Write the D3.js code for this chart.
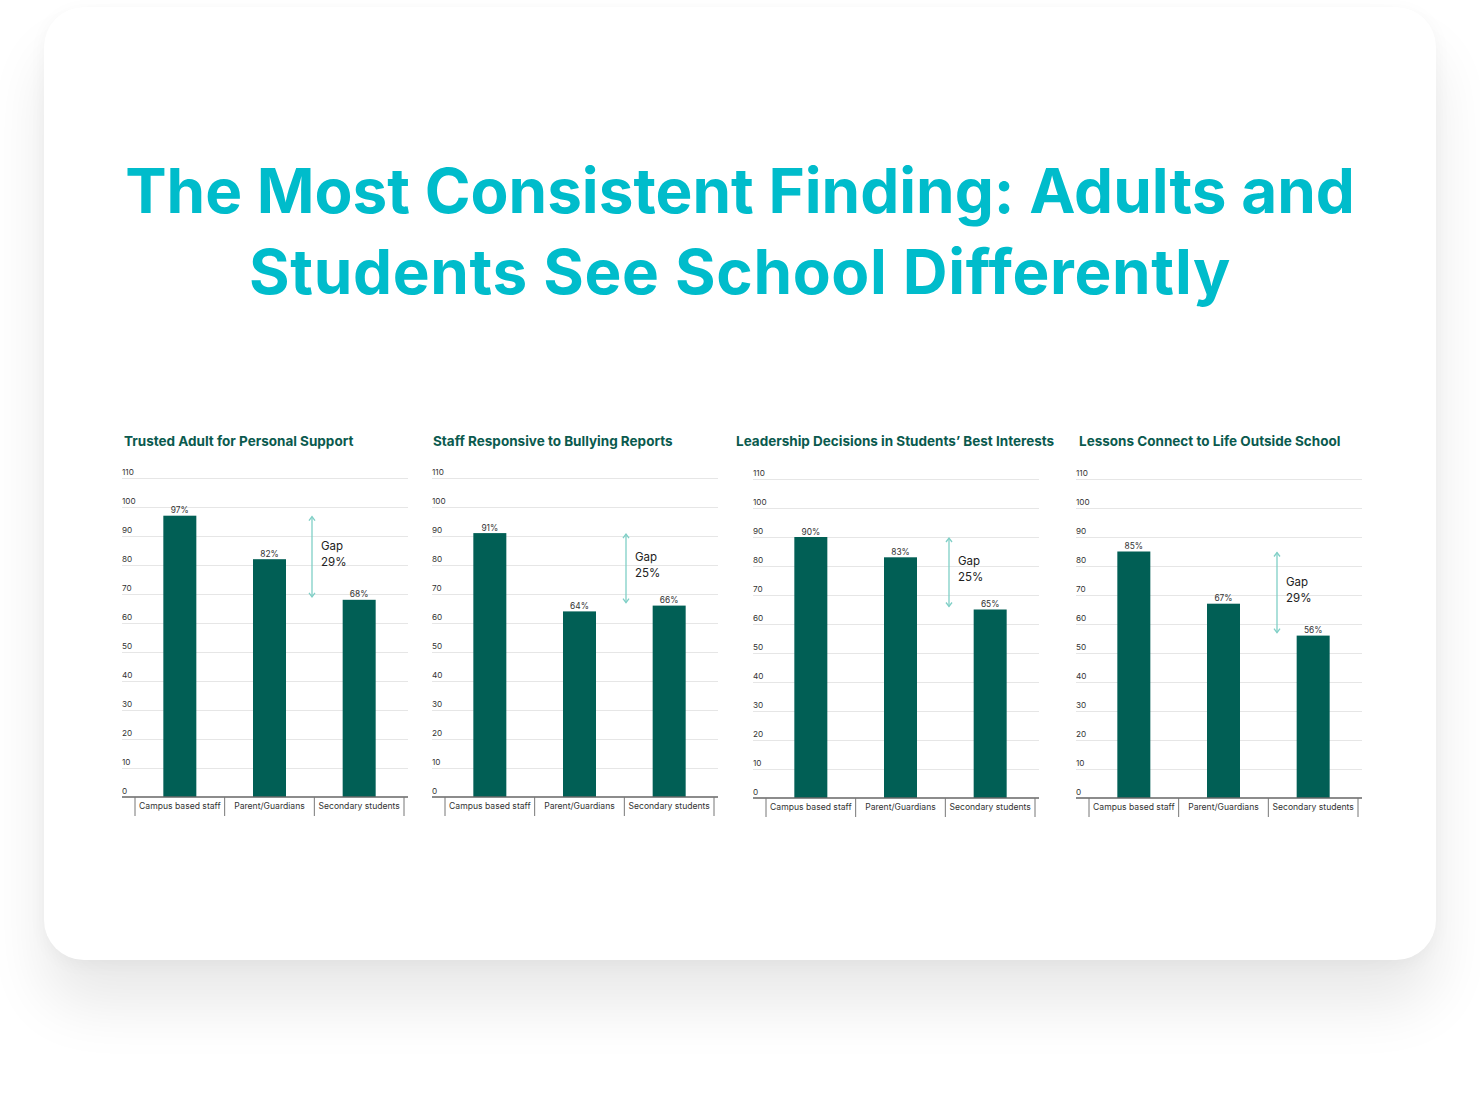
<!DOCTYPE html>
<html><head><meta charset="utf-8">
<script src="https://cdn.jsdelivr.net/npm/d3@7"></script>
<style>
html,body{margin:0;padding:0;background:#fff;width:1480px;height:1112px;overflow:hidden;}
#card{position:absolute;left:44px;top:7px;width:1392px;height:953px;border-radius:40px;background:#fff;
box-shadow:0 45px 60px rgba(0,0,0,0.09), 0 4px 18px rgba(0,0,0,0.04);}
svg{position:absolute;left:0;top:0;}
</style></head>
<body>
<div id="card"></div>
<svg id="chart" width="1480" height="1112"></svg>
<script>
// ---- data ----
const titleLines = ["The Most Consistent Finding: Adults and", "Students See School Differently"];
const categories = ["Campus based staff", "Parent/Guardians", "Secondary students"];
const chartTitles = [
  "Trusted Adult for Personal Support",
  "Staff Responsive to Bullying Reports",
  "Leadership Decisions in Students\u2019 Best Interests",
  "Lessons Connect to Life Outside School"
];
const staffValues = [97, 91, 90, 85];
const parentValues = [82, 64, 83, 67];
const studentValues = [68, 66, 65, 56];
const gapLabels = ["29%", "25%", "25%", "29%"];
const yTicks = [0, 10, 20, 30, 40, 50, 60, 70, 80, 90, 100, 110];

// ---- layout ----
const panels = [
  {x0: 122, titleX: 124, base: 797, top: 478, arrowX: 312},
  {x0: 432, titleX: 433, base: 797, top: 478, arrowX: 626},
  {x0: 753, titleX: 736, base: 798, top: 479, arrowX: 949},
  {x0: 1076, titleX: 1079, base: 798, top: 479, arrowX: 1277}
];
const barColor = "#015F55";
const titleColor = "#0A5A4E";
const accent = "#00BCCB";
const arrowColor = "#7FCFC6";

const svg = d3.select("#chart");

// main title
const t = svg.append("g").attr("font-family", "Inter, 'Noto Sans', sans-serif")
  .attr("font-weight", 700).attr("fill", accent).attr("text-anchor", "middle");
const line1 = t.append("text").attr("x", 740).attr("y", 213).attr("font-size", 63).text(titleLines[0]);
const w = line1.node().getComputedTextLength();
const fs = 63 * 1230 / w;
line1.attr("font-size", fs);
const line2 = t.append("text").attr("x", 740).attr("y", 294).attr("font-size", fs).text(titleLines[1]);
const w2 = line2.node().getComputedTextLength();
line2.attr("letter-spacing", (982 - w2) / titleLines[1].length);

panels.forEach((p, i) => {
  const vals = [staffValues[i], parentValues[i], studentValues[i]];
  const g = svg.append("g").attr("font-family", "Inter, 'Noto Sans', sans-serif");
  const y = d3.scaleLinear().domain([0, 110]).range([p.base, p.top]);
  const x = d3.scaleBand().domain(categories).range([p.x0 + 13, p.x0 + 282]).padding(0);
  const xEnd = p.x0 + 286;

  // panel title
  g.append("text").attr("x", p.titleX).attr("y", 446).attr("font-size", 13.5).attr("font-weight", 700)
    .attr("fill", titleColor).text(chartTitles[i]);

  // gridlines + tick labels
  const yAxis = d3.axisLeft(y).tickValues(yTicks).tickSize(-(xEnd - p.x0)).tickFormat(d3.format("d"));
  const ya = g.append("g").attr("transform", `translate(${p.x0},0)`).call(yAxis);
  ya.select(".domain").remove();
  ya.selectAll(".tick line").attr("stroke", "#e6e6e6").attr("stroke-width", 1.2);
  ya.selectAll(".tick text").attr("x", 0).attr("dy", -3.5).attr("text-anchor", "start")
    .attr("font-size", 8.2).attr("fill", "#333").attr("font-family", "Inter, 'Noto Sans', sans-serif");
  ya.selectAll(".tick").filter(d => d === 0).select("line").remove();

  // bars
  const bw = 33;
  g.selectAll("rect.bar").data(vals).join("rect").attr("class", "bar")
    .attr("x", (d, j) => x(categories[j]) + x.bandwidth() / 2 - bw / 2)
    .attr("y", d => y(d)).attr("width", bw).attr("height", d => y(0) - y(d))
    .attr("fill", barColor);

  // value labels
  g.selectAll("text.val").data(vals).join("text").attr("class", "val")
    .attr("x", (d, j) => x(categories[j]) + x.bandwidth() / 2)
    .attr("y", d => y(d) - 2.5).attr("text-anchor", "middle")
    .attr("font-size", 8.4).attr("fill", "#333").text(d => d + "%");

  // x axis
  g.append("line").attr("x1", p.x0).attr("x2", xEnd).attr("y1", y(0)).attr("y2", y(0))
    .attr("stroke", "#666").attr("stroke-width", 1.6);
  const seps = categories.map(c => x(c)).concat([x(categories[2]) + x.bandwidth()]);
  g.selectAll("line.sep").data(seps).join("line").attr("class", "sep")
    .attr("x1", d => d).attr("x2", d => d).attr("y1", y(0)).attr("y2", y(0) + 19)
    .attr("stroke", "#777").attr("stroke-width", 1);
  g.selectAll("text.cat").data(categories).join("text").attr("class", "cat")
    .attr("x", d => x(d) + x.bandwidth() / 2).attr("y", y(0) + 12)
    .attr("text-anchor", "middle").attr("font-size", 8.6).attr("fill", "#333").text(d => d);

  // gap arrow (staff vs students)
  const hi = staffValues[i], lo = studentValues[i];
  const ay1 = y(hi) + 1, ay2 = y(lo) - 3;
  const ax = p.arrowX;
  const ag = g.append("g").attr("stroke", arrowColor).attr("stroke-width", 1.3).attr("fill", "none");
  ag.append("line").attr("x1", ax).attr("x2", ax).attr("y1", ay1).attr("y2", ay2);
  ag.append("path").attr("d", `M${ax - 3},${ay1 + 4} L${ax},${ay1} L${ax + 3},${ay1 + 4}`);
  ag.append("path").attr("d", `M${ax - 3},${ay2 - 4} L${ax},${ay2} L${ax + 3},${ay2 - 4}`);
  const mid = (ay1 + ay2) / 2;
  g.append("text").attr("x", ax + 9).attr("y", mid - 7).attr("font-size", 11.5).attr("fill", "#222").text("Gap");
  g.append("text").attr("x", ax + 9).attr("y", mid + 9).attr("font-size", 11.5).attr("fill", "#222").text(gapLabels[i]);
});
</script>
</body></html>
